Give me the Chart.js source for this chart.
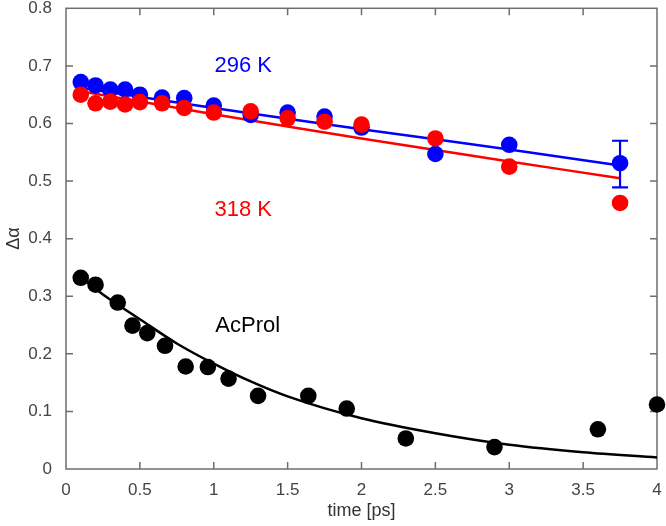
<!DOCTYPE html>
<html>
<head>
<meta charset="utf-8">
<script src="https://cdn.jsdelivr.net/npm/chart.js@4/dist/chart.umd.min.js"></script>
<style>
  html, body { margin: 0; padding: 0; background: #fff; }
  #wrap { width: 666px; height: 526px; }
</style>
</head>
<body>
<div id="wrap"><canvas id="c" width="666" height="526"></canvas></div>
<script>
// ---- data ----
const t296 = [0.1, 0.2, 0.3, 0.4, 0.5, 0.65, 0.8, 1.0, 1.25, 1.5, 1.75, 2.0, 2.5, 3.0, 3.75];
const y296 = [0.672, 0.666, 0.659, 0.659, 0.650, 0.645, 0.644, 0.631, 0.615, 0.619, 0.612, 0.593, 0.547, 0.563, 0.531];
const t318 = [0.1, 0.2, 0.3, 0.4, 0.5, 0.65, 0.8, 1.0, 1.25, 1.5, 1.75, 2.0, 2.5, 3.0, 3.75];
const y318 = [0.650, 0.635, 0.638, 0.633, 0.637, 0.635, 0.627, 0.619, 0.621, 0.609, 0.603, 0.598, 0.574, 0.525, 0.462];
const tPro = [0.1, 0.2, 0.35, 0.45, 0.55, 0.67, 0.81, 0.96, 1.1, 1.3, 1.64, 1.9, 2.3, 2.9, 3.6, 4.0];
const yPro = [0.332, 0.320, 0.289, 0.249, 0.236, 0.214, 0.178, 0.177, 0.157, 0.127, 0.127, 0.105, 0.053, 0.038, 0.069, 0.112];

// fitted curves
const tFit296 = [0.1, 1.0, 2.0, 3.0, 3.75];
const yFit296 = [0.662, 0.627, 0.590, 0.555, 0.527];
const tFit318 = [0.1, 1.0, 2.0, 3.0, 3.75];
const yFit318 = [0.656, 0.616, 0.574, 0.534, 0.505];
const tFitPro = [0.1, 0.25, 0.5, 0.75, 1.0, 1.25, 1.5, 2.0, 2.5, 3.0, 3.5, 4.0];
const yFitPro = [0.333, 0.303, 0.260, 0.218, 0.183, 0.152, 0.126, 0.088, 0.062, 0.042, 0.029, 0.020];

// error bar on the last 296 K point
const errT = [3.75];
const errLow = [0.489];
const errHigh = [0.570];

const xTicks = [0, 0.5, 1, 1.5, 2, 2.5, 3, 3.5, 4];
const yTicks = [0, 0.1, 0.2, 0.3, 0.4, 0.5, 0.6, 0.7, 0.8];

const labelTexts = ['296 K', '318 K', 'AcProl'];
const labelT = [1.2, 1.2, 1.23];
const labelY = [0.700, 0.449, 0.249];
const labelColors = ['#0000ff', '#ff0000', '#000000'];

const pts = (xs, ys) => xs.map((x, i) => ({ x: x, y: ys[i] }));

const FONT = '"Liberation Sans", Arial, Helvetica, sans-serif';
const AXIS = '#6e6e6e';

const framePlugin = {
  id: 'frame',
  beforeDatasetsDraw(chart) {
    const { ctx, chartArea: a, scales: { x, y } } = chart;
    ctx.save();
    ctx.strokeStyle = AXIS;
    ctx.lineWidth = 1.5;
    ctx.strokeRect(a.left, a.top, a.right - a.left, a.bottom - a.top);
    const L = 7;
    ctx.beginPath();
    xTicks.forEach(v => {
      const px = x.getPixelForValue(v);
      if (px <= a.left + 1 || px >= a.right - 1) return;
      ctx.moveTo(px, a.bottom); ctx.lineTo(px, a.bottom - L);
      ctx.moveTo(px, a.top); ctx.lineTo(px, a.top + L);
    });
    yTicks.forEach(v => {
      const py = y.getPixelForValue(v);
      if (py <= a.top + 1 || py >= a.bottom - 1) return;
      ctx.moveTo(a.left, py); ctx.lineTo(a.left + L, py);
      ctx.moveTo(a.right, py); ctx.lineTo(a.right - L, py);
    });
    ctx.stroke();
    ctx.restore();
  },
  afterDatasetsDraw(chart) {
    const { ctx, scales: { x, y } } = chart;
    ctx.save();
    // error bar
    ctx.strokeStyle = '#0000ff';
    ctx.lineWidth = 2.2;
    errT.forEach((t, i) => {
      const px = x.getPixelForValue(t);
      const p1 = y.getPixelForValue(errLow[i]);
      const p2 = y.getPixelForValue(errHigh[i]);
      ctx.beginPath();
      ctx.moveTo(px, p1); ctx.lineTo(px, p2);
      ctx.moveTo(px - 8, p1); ctx.lineTo(px + 8, p1);
      ctx.moveTo(px - 8, p2); ctx.lineTo(px + 8, p2);
      ctx.stroke();
    });
    // text labels
    ctx.font = '22px ' + FONT;
    ctx.textAlign = 'center';
    ctx.textBaseline = 'middle';
    labelTexts.forEach((s, i) => {
      ctx.fillStyle = labelColors[i];
      ctx.fillText(s, x.getPixelForValue(labelT[i]), y.getPixelForValue(labelY[i]));
    });
    ctx.restore();
  }
};

const R = 8.3;
new Chart(document.getElementById('c'), {
  type: 'scatter',
  data: {
    datasets: [
      { label: '318 K', data: pts(t318, y318), backgroundColor: '#ff0000', borderColor: '#ff0000', pointRadius: R, pointBorderWidth: 0, showLine: false, order: 1, clip: false },
      { label: '296 K', data: pts(t296, y296), backgroundColor: '#0000ff', borderColor: '#0000ff', pointRadius: R, pointBorderWidth: 0, showLine: false, order: 2, clip: false },
      { label: 'AcProl', data: pts(tPro, yPro), backgroundColor: '#000000', borderColor: '#000000', pointRadius: R, pointBorderWidth: 0, showLine: false, order: 1, clip: false },
      { label: 'fit 318', type: 'line', data: pts(tFit318, yFit318), borderColor: '#ff0000', borderWidth: 2.5, pointRadius: 0, fill: false, tension: 0.3, order: 4 },
      { label: 'fit 296', type: 'line', data: pts(tFit296, yFit296), borderColor: '#0000ff', borderWidth: 2.5, pointRadius: 0, fill: false, tension: 0.3, order: 3 },
      { label: 'fit AcProl', type: 'line', data: pts(tFitPro, yFitPro), borderColor: '#000000', borderWidth: 2.5, pointRadius: 0, fill: false, cubicInterpolationMode: 'monotone', order: 5 }
    ]
  },
  options: {
    responsive: false,
    animation: false,
    devicePixelRatio: 1,
    layout: { padding: { left: 0, top: 6, right: 9, bottom: 0 } },
    plugins: { legend: { display: false }, tooltip: { enabled: false } },
    scales: {
      x: {
        type: 'linear', min: 0, max: 4,
        afterBuildTicks: s => { s.ticks = xTicks.map(v => ({ value: v })); },
        afterFit: s => { s.height = 57; s.paddingLeft = 0; s.paddingRight = 0; },
        grid: { display: false, drawTicks: false },
        border: { display: false },
        ticks: { padding: 11, color: '#444444', font: { family: FONT, size: 17 }, maxRotation: 0, callback: v => String(v) },
        title: { display: true, text: 'time [ps]', color: '#333333', font: { family: FONT, size: 18 }, padding: { top: 4, bottom: 4 } }
      },
      y: {
        type: 'linear', min: 0, max: 0.8,
        afterBuildTicks: s => { s.ticks = yTicks.map(v => ({ value: v })); },
        afterFit: s => { s.width = 66; s.paddingTop = 0; s.paddingBottom = 0; },
        grid: { display: false, drawTicks: false },
        border: { display: false },
        ticks: { padding: 14, color: '#444444', font: { family: FONT, size: 17 }, callback: v => String(v) },
        title: { display: true, text: 'Δα', color: '#333333', font: { family: FONT, size: 18 }, padding: { top: 3, bottom: 3 } }
      }
    }
  },
  plugins: [framePlugin]
});
</script>
</body>
</html>
